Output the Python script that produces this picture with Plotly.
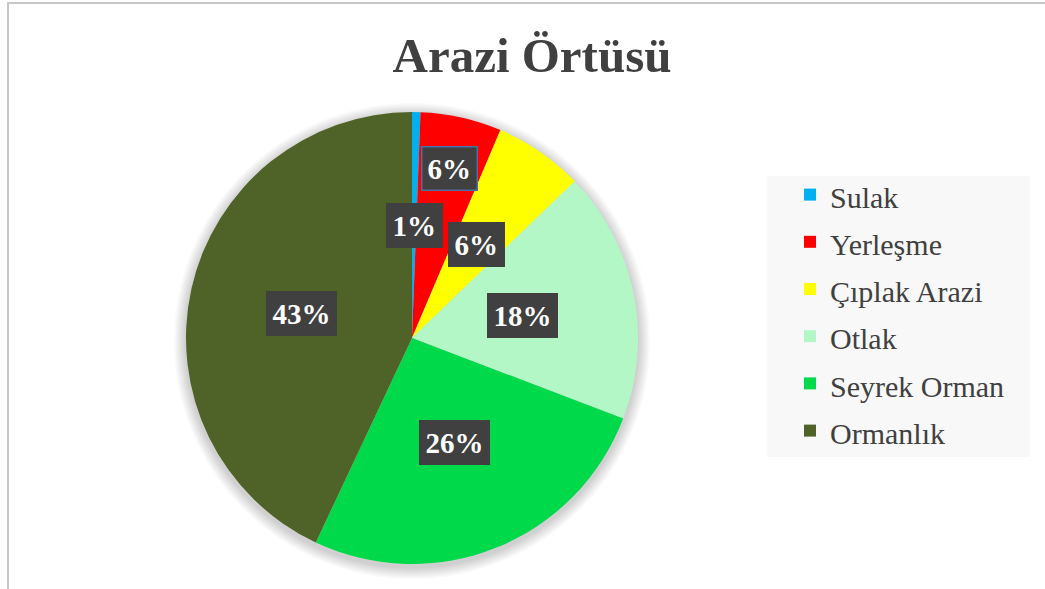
import math
import plotly.graph_objects as go

categories = ["Sulak", "Yerleşme", "Çıplak Arazi", "Otlak", "Seyrek Orman", "Ormanlık"]
values = [0.6, 5.8, 6.4, 18.0, 26.2, 43.0]
colors = ["#00b0f0", "#ff0000", "#ffff00", "#b3f7c6", "#00d94a", "#4f6228"]
label_radius = [0.5, 0.77, 0.5, 0.5, 0.5, 0.5]

W, H = 1045, 589
cx, cy, R = 412, 338, 226  # pixel centre / radius of the pie

dom_x = [(cx - R) / W, (cx + R) / W]
dom_y = [(H - cy - R) / H, (H - cy + R) / H]

legend_labels = [f"<span style='font-size:30px'>{c}</span>" for c in categories]

fig = go.Figure()
fig.add_trace(go.Pie(
    labels=legend_labels, values=values, sort=False, direction="clockwise",
    rotation=0, marker=dict(colors=colors, line=dict(width=0)),
    textinfo="none", hoverinfo="percent",
    domain=dict(x=dom_x, y=dom_y),
))

total = sum(values)
annotations = []
acc = 0.0
for i, v in enumerate(values):
    mid = (acc + v / 2) / total * 2 * math.pi
    acc += v
    px = cx + R * label_radius[i] * math.sin(mid)
    py = cy - R * label_radius[i] * math.cos(mid)
    pct = round(v / total * 100)
    annotations.append(dict(
        x=px / W, y=1 - py / H, xref="paper", yref="paper",
        xanchor="center", yanchor="middle",
        text=f"<b>{pct}%</b>", showarrow=False,
        font=dict(family="Liberation Serif", size=29, color="white"),
        bgcolor="#404040",
        bordercolor="#4f6fa0" if i == 1 else "#404040", borderwidth=1.5,
        borderpad=5,
    ))

# soft shadow around the pie
shapes = []
for k in range(1, 9):
    rr = R + k * 1.5
    shapes.append(dict(type="circle", xref="paper", yref="paper",
                       x0=(cx - rr) / W, x1=(cx + rr) / W,
                       y0=(H - cy - 3 - rr) / H, y1=(H - cy - 3 + rr) / H,
                       fillcolor="rgba(0,0,0,0.022)", line=dict(width=0), layer="below"))
shapes.append(dict(type="rect", xref="paper", yref="paper",
                   x0=767 / W, x1=1030 / W, y0=1 - 457 / H, y1=1 - 176 / H,
                   fillcolor="#f8f8f8", line=dict(width=0), layer="below"))
shapes.append(dict(type="rect", xref="paper", yref="paper",
                   x0=8 / W, x1=1.1, y0=-0.1, y1=1 - 3 / H,
                   line=dict(color="#c8c8c8", width=2), layer="below"))

fig.update_layout(
    width=W, height=H,
    margin=dict(l=0, r=0, t=0, b=0),
    paper_bgcolor="white",
    title=dict(text="<b>Arazi Örtüsü</b>", x=532 / W, xanchor="center",
               y=1 - 55 / H, yanchor="middle",
               font=dict(family="Liberation Serif", size=49, color="#404040")),
    legend=dict(x=790 / W, xanchor="left", y=1 - 166 / H, yanchor="top",
                bgcolor="rgba(0,0,0,0)", font=dict(family="Liberation Serif", size=34, color="#404040")),
    annotations=annotations,
    shapes=shapes,
)

fig.write_html("out.html", config={"displayModeBar": False},
               post_script="document.body.style.margin='0';")
